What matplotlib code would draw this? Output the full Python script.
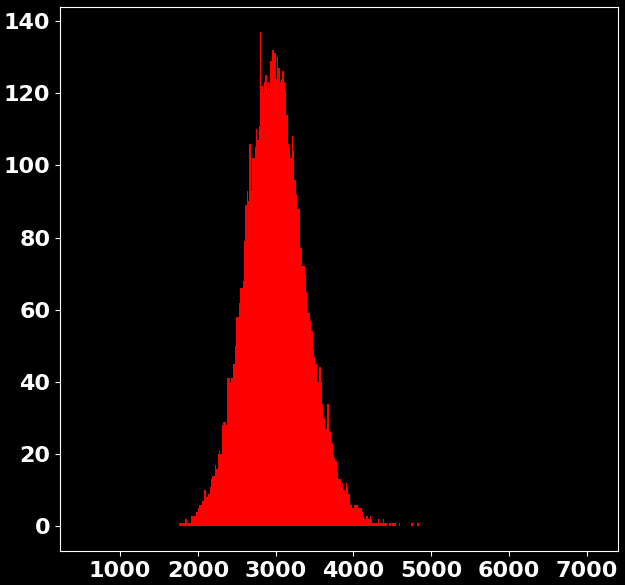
import numpy as np
import matplotlib
matplotlib.use('Agg')
import matplotlib.pyplot as plt

# Histogram: bins of width 17 starting at 1760
bin_start = 1760
bin_width = 17
counts = [1, 1, 1, 1, 2, 2, 1, 1, 1, 3,
          3, 3, 3, 4, 5, 6, 6, 7, 7, 10,
          8, 8, 9, 11, 13, 14, 14, 17, 16, 20,
          21, 20, 28, 29, 29, 28, 41, 41, 40, 41,
          41, 45, 50, 58, 58, 62, 66, 66, 68, 79,
          89, 93, 90, 106, 93, 102, 102, 105, 110, 107,
          111, 137, 122, 120, 123, 125, 121, 123, 120, 129,
          132, 132, 131, 124, 130, 127, 123, 124, 126, 123,
          121, 114, 106, 105, 102, 108, 104, 96, 92, 88,
          88, 77, 77, 72, 72, 70, 65, 59, 59, 57,
          54, 49, 47, 45, 40, 40, 44, 40, 34, 30,
          27, 27, 34, 26, 26, 23, 20, 19, 18, 15,
          13, 13, 11, 12, 10, 9, 12, 11, 9, 6,
          6, 5, 6, 6, 6, 5, 5, 5, 4, 3,
          2, 3, 3, 2, 3, 2, 1, 1, 1, 1,
          2, 1, 1, 1, 2, 1, 1, 0, 0, 1,
          0, 1, 1, 1, 0, 0, 1, 0, 0, 0,
          0, 0, 0, 0, 0, 1, 1, 0, 0, 0,
          1]
x_range = [226, 7404]

edges = bin_start + bin_width * np.arange(len(counts) + 1)

plt.style.use('dark_background')
fig = plt.figure(figsize=(6.25, 5.85), dpi=100)
ax = fig.add_axes([0.096, 0.058, 0.893, 0.930])
ax.hist(edges[:-1], bins=edges, weights=counts, color='red')
ax.set_xlim(x_range)
top = max(counts)
ax.set_ylim(-0.05 * top, 1.05 * top)

for lab in ax.get_xticklabels() + ax.get_yticklabels():
    lab.set_fontsize(16)
    lab.set_fontweight('bold')

fig.savefig('out.png', dpi=100, facecolor='black')
